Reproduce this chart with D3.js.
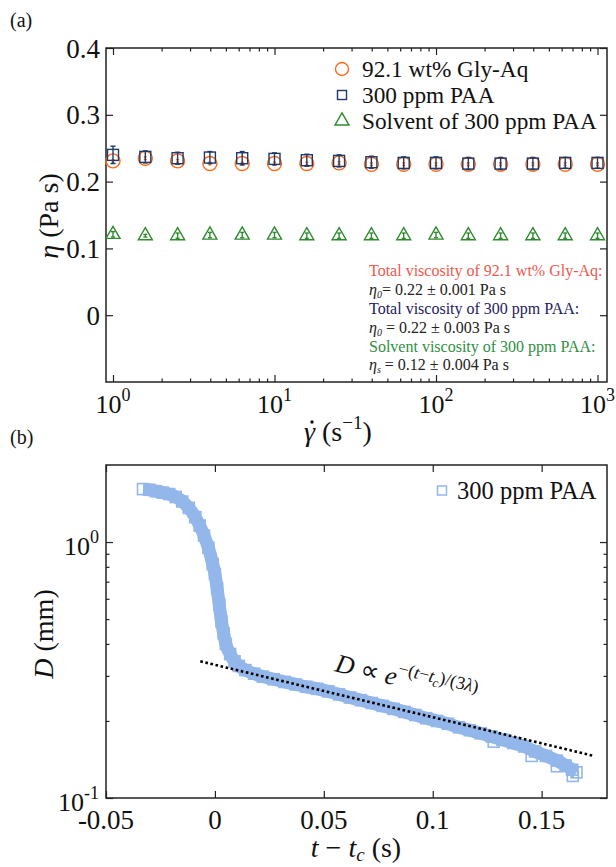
<!DOCTYPE html>
<html><head><meta charset="utf-8">
<script src="https://cdn.jsdelivr.net/npm/d3@7"></script>
<style>
body{margin:0;background:#fff;}
svg{display:block;}
text{font-family:"Liberation Serif","Times New Roman",serif;fill:#111;}
</style>
</head><body>
<svg id="c" width="616" height="867"></svg>
<script>
// ---------- Panel (a) data ----------
const shearRates = [1, 1.585, 2.512, 3.981, 6.31, 10, 15.85, 25.12, 39.81, 63.1, 100, 158.5, 251.2, 398.1, 631, 1000];
const glyVisc = [0.231, 0.235, 0.231, 0.227, 0.227, 0.227, 0.227, 0.228, 0.226, 0.226, 0.226, 0.226, 0.226, 0.226, 0.226, 0.226];
const glyErr  = [0.002, 0.002, 0.002, 0.002, 0.002, 0.002, 0.002, 0.002, 0.002, 0.002, 0.002, 0.002, 0.002, 0.002, 0.002, 0.002];
const paaVisc = [0.240, 0.237, 0.235, 0.236, 0.235, 0.234, 0.232, 0.231, 0.229, 0.228, 0.228, 0.227, 0.227, 0.227, 0.228, 0.228];
const paaErr  = [0.013, 0.009, 0.009, 0.009, 0.010, 0.009, 0.009, 0.009, 0.009, 0.009, 0.009, 0.009, 0.009, 0.009, 0.008, 0.008];
const solvVisc = [0.121, 0.119, 0.119, 0.120, 0.120, 0.120, 0.119, 0.119, 0.119, 0.119, 0.120, 0.119, 0.119, 0.119, 0.119, 0.119];
const solvErr  = [0.004, 0.002, 0.004, 0.004, 0.004, 0.004, 0.004, 0.004, 0.004, 0.004, 0.004, 0.004, 0.004, 0.004, 0.004, 0.004];
const legendA = ["92.1 wt% Gly-Aq", "300 ppm PAA", "Solvent of 300 ppm PAA"];
const yTicksA = [0, 0.1, 0.2, 0.3, 0.4];
const yTickLabelsA = ["0", "0.1", "0.2", "0.3", "0.4"];
const xTicksA = [1, 10, 100, 1000];
const xTickExpA = ["0", "1", "2", "3"];

// ---------- Panel (b) data ----------
const timeData = [-0.033,-0.030,-0.027,-0.024,-0.021,-0.018,-0.015,-0.012,-0.009,-0.007,-0.005,-0.003,-0.001,0.000,0.001,0.002,0.003,0.004,0.005,0.007,0.009,0.011,0.014,0.018,0.022,0.027,0.032,0.037,0.042,0.047,0.052,0.057,0.062,0.067,0.072,0.077,0.082,0.087,0.092,0.097,0.102,0.107,0.112,0.117,0.122,0.127,0.132,0.137,0.142,0.147,0.152,0.157,0.161,0.164,0.166];
const diamData = [1.61,1.60,1.58,1.56,1.54,1.50,1.44,1.36,1.25,1.16,1.06,0.95,0.82,0.75,0.66,0.57,0.49,0.44,0.40,0.365,0.342,0.328,0.316,0.306,0.298,0.291,0.284,0.278,0.272,0.267,0.261,0.254,0.247,0.241,0.235,0.229,0.223,0.217,0.211,0.205,0.200,0.195,0.189,0.184,0.179,0.174,0.169,0.164,0.159,0.152,0.146,0.140,0.134,0.129,0.126];
const tailTime = [0.128, 0.1454, 0.157, 0.1643];
const tailDiam = [0.166, 0.146, 0.133, 0.122];
const fitTime = [-0.0067, 0.174];
const fitDiam = [0.342, 0.146];
const xTicksB = [-0.05, 0, 0.05, 0.1, 0.15];
const xTickLabelsB = ["-0.05", "0", "0.05", "0.1", "0.15"];
const yTicksB = [0.1, 1];
const yTickExpB = ["-1", "0"];
const yMinorB = [0.2,0.3,0.4,0.5,0.6,0.7,0.8,0.9];

const svg = d3.select("#c");
const AX = "#222";

function inward(g, axisFn, scale, values, len, tr) {
  g.append("g").attr("transform", tr)
    .call(axisFn(scale).tickValues(values).tickSizeInner(-len).tickSizeOuter(0).tickFormat(() => ""))
    .call(s => { s.select(".domain").remove(); s.selectAll("text").remove(); })
    .selectAll("line").attr("stroke", AX).attr("stroke-width", 1.2);
}

// ================= Panel (a) =================
const A = {l:106, r:607, t:48, b:382};
const xA = d3.scaleLog().domain([0.905, 1145]).range([A.l, A.r]);
const yA = d3.scaleLinear().domain([-0.1, 0.4]).range([A.b, A.t]);
const gA = svg.append("g");

const minorA = [];
[1,10,100].forEach(d => { for (let k=2;k<=9;k++) minorA.push(k*d); });
inward(gA, d3.axisBottom, xA, xTicksA, 7, `translate(0,${A.b})`);
inward(gA, d3.axisBottom, xA, minorA, 3.5, `translate(0,${A.b})`);
inward(gA, d3.axisTop, xA, xTicksA, 7, `translate(0,${A.t})`);
inward(gA, d3.axisTop, xA, minorA, 3.5, `translate(0,${A.t})`);
inward(gA, d3.axisLeft, yA, yTicksA, 7, `translate(${A.l},0)`);
inward(gA, d3.axisRight, yA, yTicksA, 7, `translate(${A.r},0)`);
gA.append("rect").attr("x",A.l).attr("y",A.t).attr("width",A.r-A.l).attr("height",A.b-A.t)
  .attr("fill","none").attr("stroke",AX).attr("stroke-width",1.5);

yTicksA.forEach((v,i) => {
  gA.append("text").attr("x", A.l-6).attr("y", yA(v)+9.5).attr("text-anchor","end")
    .attr("font-size",27).text(yTickLabelsA[i]);
});
xTicksA.forEach((v,i) => {
  const t = gA.append("text").attr("x", xA(v)).attr("y", A.b+31).attr("text-anchor","middle").attr("font-size",26);
  t.append("tspan").text("10");
  t.append("tspan").attr("dy",-12).attr("font-size",18).text(xTickExpA[i]);
});
// axis titles
{
  const x0 = 304, base = 441;
  const t = gA.append("text").attr("x", x0).attr("y", base).attr("font-size",28);
  t.append("tspan").attr("font-style","italic").text("γ");
  t.append("tspan").text(" (s");
  t.append("tspan").attr("dy",-12).attr("font-size",19).text("−1");
  t.append("tspan").attr("dy",12).text(")");
  gA.append("circle").attr("cx", x0+8).attr("cy", base-19).attr("r",1.7).attr("fill","#111");
  const y = gA.append("text").attr("transform","translate(58,216) rotate(-90)").attr("text-anchor","middle").attr("font-size",28);
  y.append("tspan").attr("font-style","italic").text("η");
  y.append("tspan").text(" (Pa s)");
}
svg.append("text").attr("x",10).attr("y",27).attr("font-size",20).text("(a)");

const cGly = "#ff6a1a", cPaa = "#1f3a68", cSol = "#2e8b2e";
function errbars(g, xs, ys, es, col, w) {
  xs.forEach((x,i) => {
    const px = xA(x), y1 = yA(ys[i]-es[i]), y2 = yA(ys[i]+es[i]);
    g.append("line").attr("x1",px).attr("x2",px).attr("y1",y1).attr("y2",y2).attr("stroke",col).attr("stroke-width",1.4);
    [y1,y2].forEach(yy => g.append("line").attr("x1",px-w).attr("x2",px+w).attr("y1",yy).attr("y2",yy).attr("stroke",col).attr("stroke-width",1.4));
  });
}
// circles
gA.selectAll("circle.gly").data(shearRates).join("circle").attr("class","gly")
  .attr("cx",d=>xA(d)).attr("cy",(d,i)=>yA(glyVisc[i])).attr("r",7)
  .attr("fill","none").attr("stroke",cGly).attr("stroke-width",1.4);
errbars(gA, shearRates, glyVisc, glyErr, cGly, 1.5);
// squares
gA.selectAll("rect.paa").data(shearRates).join("rect").attr("class","paa")
  .attr("x",d=>xA(d)-5.5).attr("y",(d,i)=>yA(paaVisc[i])-5.5).attr("width",11).attr("height",11)
  .attr("fill","none").attr("stroke",cPaa).attr("stroke-width",1.4);
errbars(gA, shearRates, paaVisc, paaErr, cPaa, 2.5);
// triangles
const tri = d3.symbol().type(d3.symbolTriangle).size(85);
gA.selectAll("path.sol").data(shearRates).join("path").attr("class","sol")
  .attr("transform",(d,i)=>`translate(${xA(d)},${yA(solvVisc[i])})`).attr("d",tri)
  .attr("fill","none").attr("stroke",cSol).attr("stroke-width",1.4);
errbars(gA, shearRates, solvVisc, solvErr, cSol, 2);

// legend (a)
const legY = [69, 95, 121];
gA.append("circle").attr("cx",342).attr("cy",legY[0]).attr("r",6.5).attr("fill","none").attr("stroke",cGly).attr("stroke-width",1.4);
gA.append("rect").attr("x",337.5).attr("y",legY[1]-4.5).attr("width",9).attr("height",9).attr("fill","none").attr("stroke",cPaa).attr("stroke-width",1.4);
gA.append("path").attr("transform",`translate(342,${legY[2]})`).attr("d",tri).attr("fill","none").attr("stroke",cSol).attr("stroke-width",1.4);
legendA.forEach((s,i) => gA.append("text").attr("x",362).attr("y",legY[i]+8).attr("font-size",23.3).text(s));

// annotation (a)
const FA = 16;
function etaLine(y, sub, rest) {
  const t = gA.append("text").attr("x",369).attr("y",y).attr("font-size",FA).style("fill","#222");
  t.append("tspan").attr("font-style","italic").text("η");
  t.append("tspan").attr("dy",3).attr("font-size",10).attr("font-style","italic").text(sub);
  t.append("tspan").attr("dy",-3).text(rest);
}
gA.append("text").attr("x",369).attr("y",276).attr("font-size",FA).style("fill","#f0584c").text("Total viscosity of 92.1 wt% Gly-Aq:");
etaLine(295, "0", "= 0.22 ± 0.001 Pa s");
gA.append("text").attr("x",369).attr("y",314).attr("font-size",FA).style("fill","#1e2060").text("Total viscosity of 300 ppm PAA:");
etaLine(333, "0", " = 0.22 ± 0.003 Pa s");
gA.append("text").attr("x",369).attr("y",352).attr("font-size",FA).style("fill","#2f8f3f").text("Solvent viscosity of 300 ppm PAA:");
etaLine(370, "s", " = 0.12 ± 0.004 Pa s");

// ================= Panel (b) =================
const B = {l:106, r:607, t:465, b:798};
const xB = d3.scaleLinear().domain([-0.05, 0.18]).range([B.l, B.r]);
const yB = d3.scaleLog().domain([0.1, 2]).range([B.b, B.t]);
const gB = svg.append("g");

inward(gB, d3.axisBottom, xB, xTicksB, 7, `translate(0,${B.b})`);
inward(gB, d3.axisTop, xB, xTicksB, 7, `translate(0,${B.t})`);
inward(gB, d3.axisLeft, yB, yTicksB, 7, `translate(${B.l},0)`);
inward(gB, d3.axisLeft, yB, yMinorB, 3.5, `translate(${B.l},0)`);
inward(gB, d3.axisRight, yB, yTicksB, 7, `translate(${B.r},0)`);
inward(gB, d3.axisRight, yB, yMinorB, 3.5, `translate(${B.r},0)`);

const cB = "#93b7ea";
const pts = timeData.map((t,i)=>[t, diamData[i]]);
gB.append("path").datum(pts)
  .attr("d", d3.line().x(d=>xB(d[0])).y(d=>yB(d[1])).curve(d3.curveMonotoneX))
  .attr("fill","none").attr("stroke",cB).attr("stroke-width",13).attr("stroke-linejoin","round");
const allT = timeData.concat(tailTime), allD = diamData.concat(tailDiam);
gB.selectAll("rect.d").data(allT).join("rect").attr("class","d")
  .attr("x",d=>xB(d)-5.5).attr("y",(d,i)=>yB(allD[i])-5.5).attr("width",11).attr("height",11)
  .attr("fill","none").attr("stroke",cB).attr("stroke-width",1.6);

// fit line
gB.append("path").datum(fitTime.map((t,i)=>[t, fitDiam[i]]))
  .attr("d", d3.line().x(d=>xB(d[0])).y(d=>yB(d[1])))
  .attr("fill","none").attr("stroke","#000").attr("stroke-width",2.6).attr("stroke-dasharray","2.6,2.6");

gB.append("rect").attr("x",B.l).attr("y",B.t).attr("width",B.r-B.l).attr("height",B.b-B.t)
  .attr("fill","none").attr("stroke",AX).attr("stroke-width",1.5);

xTicksB.forEach((v,i) => gB.append("text").attr("x",xB(v)).attr("y",B.b+31).attr("text-anchor","middle").attr("font-size",27).text(xTickLabelsB[i]));
yTicksB.forEach((v,i) => {
  const t = gB.append("text").attr("x", B.l-7).attr("y", yB(v)+13).attr("text-anchor","end").attr("font-size",26);
  t.append("tspan").text("10");
  t.append("tspan").attr("dy",-12).attr("font-size",18).text(yTickExpB[i]);
});
{
  const t = gB.append("text").attr("x",356).attr("y",857).attr("text-anchor","middle").attr("font-size",28);
  t.append("tspan").attr("font-style","italic").text("t");
  t.append("tspan").text(" − ");
  t.append("tspan").attr("font-style","italic").text("t");
  t.append("tspan").attr("dy",4).attr("font-size",19).attr("font-style","italic").text("c");
  t.append("tspan").attr("dy",-4).text(" (s)");
  const y = gB.append("text").attr("transform","translate(53,634) rotate(-90)").attr("text-anchor","middle").attr("font-size",28);
  y.append("tspan").attr("font-style","italic").text("D");
  y.append("tspan").text(" (mm)");
}
svg.append("text").attr("x",10).attr("y",444).attr("font-size",20).text("(b)");

// legend (b)
gB.append("rect").attr("x",437.5).attr("y",486).attr("width",9).attr("height",9).attr("fill","none").attr("stroke",cB).attr("stroke-width",1.5);
gB.append("text").attr("x",457).attr("y",499).attr("font-size",24.5).text("300 ppm PAA");

// fit annotation
{
  const t = gB.append("text").attr("transform","translate(334,671) rotate(13.5)").attr("font-size",26);
  t.append("tspan").attr("font-style","italic").text("D");
  t.append("tspan").text(" ∝ ");
  t.append("tspan").attr("font-style","italic").text("e");
  t.append("tspan").attr("dy",-12).attr("font-size",18).text("−(");
  t.append("tspan").attr("font-size",18).attr("font-style","italic").text("t");
  t.append("tspan").attr("font-size",18).text("−");
  t.append("tspan").attr("font-size",18).attr("font-style","italic").text("t");
  t.append("tspan").attr("dy",4).attr("font-size",13).attr("font-style","italic").text("c");
  t.append("tspan").attr("dy",-4).attr("font-size",18).text(")/(3");
  t.append("tspan").attr("font-size",18).attr("font-style","italic").text("λ");
  t.append("tspan").attr("font-size",18).text(")");
}
</script>
</body></html>
